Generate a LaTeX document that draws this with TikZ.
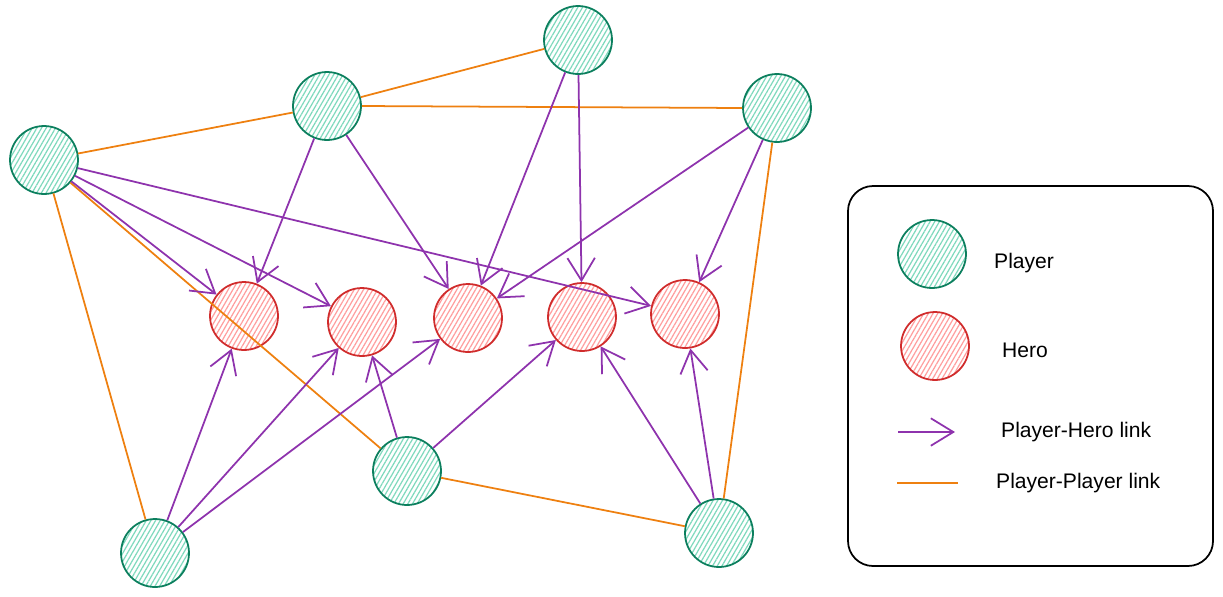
\documentclass[tikz,border=0pt]{standalone}
\usepackage{fontspec}
\setmainfont{Liberation Sans}
\usetikzlibrary{arrows.meta,patterns.meta}
\definecolor{playerline}{HTML}{0C7F5E}
\definecolor{playerfill}{HTML}{7FD9BD}
\definecolor{heroline}{HTML}{D02C2C}
\definecolor{herofill}{HTML}{FF9E9E}
\definecolor{phcolor}{HTML}{8E33AD}
\definecolor{ppcolor}{HTML}{EE8010}

\begin{document}
\begin{tikzpicture}[x=0.02cm,y=-0.02cm,
  player/.style={circle,draw=playerline,line width=1pt,minimum size=1.36cm,inner sep=0pt,
    pattern={Lines[angle=60,distance=2.3pt,line width=0.7pt]},pattern color=playerfill},
  hero/.style={circle,draw=heroline,line width=1pt,minimum size=1.36cm,inner sep=0pt,
    pattern={Lines[angle=60,distance=2.3pt,line width=0.7pt]},pattern color=herofill},
  phlink/.style={draw=phcolor,line width=1pt,-{Straight Barb[length=4.5mm,width=5.5mm,line width=1pt]}},
  pplink/.style={draw=ppcolor,line width=1pt},
  legendtext/.style={anchor=west,font=\fontsize{12}{14}\selectfont}]
\useasboundingbox (0,0) rectangle (1223,596);

\node[player] (p1) at (44,160) {};
\node[player] (p2) at (327,106) {};
\node[player] (p3) at (578,40) {};
\node[player] (p4) at (777,108) {};
\node[player] (p5) at (407,471) {};
\node[player] (p6) at (155,553) {};
\node[player] (p7) at (719,533) {};

\node[hero] (h1) at (244,316) {};
\node[hero] (h2) at (362,322) {};
\node[hero] (h3) at (468,318) {};
\node[hero] (h4) at (582,317) {};
\node[hero] (h5) at (685,314) {};

\draw[pplink] (p1) -- (p2);
\draw[pplink] (p2) -- (p3);
\draw[pplink] (p2.east) -- (p4.west);
\draw[pplink] (p1) -- (p6);
\draw[pplink] (p1) -- (p5);
\draw[pplink] (p5) -- (p7);
\draw[pplink] (p4) -- (p7);

\draw[phlink] (p1) -- (h1);
\draw[phlink] (p1) -- (h2);
\draw[phlink] (p1) -- (h5);
\draw[phlink] (p2) -- (h1);
\draw[phlink] (p2) -- (h3);
\draw[phlink] (p3) -- (h3);
\draw[phlink] (p3) -- (h4);
\draw[phlink] (p4) -- (h3);
\draw[phlink] (p4) -- (h5);
\draw[phlink] (p5) -- (h2);
\draw[phlink] (p5) -- (h4);
\draw[phlink] (p6) -- (h1);
\draw[phlink] (p6) -- (h2);
\draw[phlink] (p6) -- (h3);
\draw[phlink] (p7) -- (h4);
\draw[phlink] (p7) -- (h5);

% legend
\draw[line width=1pt,rounded corners=0.5cm] (848,186) rectangle (1213,566);
\node[player] (lp) at (932,254) {};
\node[hero] (lh) at (935,346) {};
\coordinate (phs) at (898,432);
\coordinate (phe) at (955,432);
\coordinate (pps) at (897,483);
\coordinate (ppe) at (958,483);
\draw[phlink] (phs) -- (phe);
\draw[pplink] (pps) -- (ppe);
\node[legendtext] at (988,263) {Player};
\node[legendtext] at (996,350) {Hero};
\node[legendtext] at (995,432) {Player-Hero link};
\node[legendtext] at (990,483) {Player-Player link};
\end{tikzpicture}
\end{document}
